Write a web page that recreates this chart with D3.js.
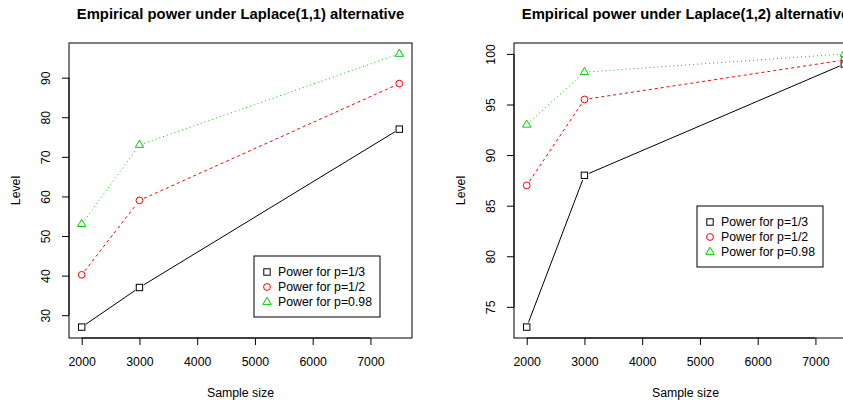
<!DOCTYPE html>
<html>
<head>
<meta charset="utf-8">
<title>Empirical power</title>
<script src="https://d3js.org/d3.v7.min.js"></script>
<style>
  body { margin: 0; background: #fff; }
  svg text { font-family: "Liberation Sans", Arial, Helvetica, sans-serif; }
</style>
</head>
<body>
<script>
// sample sizes on the x axis (shared by both panels)
var sampleSizes = [2000, 3000, 7500];
var seriesNames = ["Power for p=1/3", "Power for p=1/2", "Power for p=0.98"];

// Laplace(1,1) alternative
var lap11_p13 = [27, 37, 77];
var lap11_p12 = [40.2, 59, 88.5];
var lap11_p98 = [53, 73, 96];

// Laplace(1,2) alternative
var lap12_p13 = [73, 88, 99];
var lap12_p12 = [87, 95.5, 99.4];
var lap12_p98 = [93, 98.2, 100];

var xTicks = [2000, 3000, 4000, 5000, 6000, 7000];
var yTicksLap11 = [30, 40, 50, 60, 70, 80, 90];
var yTicksLap12 = [75, 80, 85, 90, 95, 100];

var W = 843, H = 405;
var svg = d3.select("body").append("svg")
    .attr("width", W)
    .attr("height", H);

// R-like look
var colors = ["#000000", "#FF0000", "#00CD00"];
var dashes = [null, "3,3", "1,3"];
var shapes = ["square", "circle", "triangle"];
var R = 3.4;

function addMarker(g, shape, col) {
  if (shape == "square") {
    g.append("rect").attr("x", -3.2).attr("y", -3.2)
      .attr("width", 6.4).attr("height", 6.4);
  } else if (shape == "circle") {
    g.append("circle").attr("r", R);
  } else {
    var r = 4.8;
    g.append("path")
      .attr("d", "M0," + (-r) + "L" + (r * 0.866) + "," + (r / 2) +
                 "L" + (-r * 0.866) + "," + (r / 2) + "Z");
  }
  g.selectAll("*").attr("fill", "none").attr("stroke", col).attr("stroke-width", 1);
}

function pad(ext) {
  var d = (ext[1] - ext[0]) * 0.04;
  return [ext[0] - d, ext[1] + d];
}

function panel(left, title, series, yTicks, legendPos) {
  var top = 43, w = 343, h = 295;
  var g = svg.append("g").attr("transform", "translate(" + left + "," + top + ")");

  var x = d3.scaleLinear()
    .domain(pad(d3.extent(sampleSizes)))
    .range([0, w]);
  var allY = d3.merge(series);
  var y = d3.scaleLinear()
    .domain(pad(d3.extent(allY)))
    .range([h, 0]);

  // x axis
  var xAxis = d3.axisBottom(x).tickValues(xTicks).tickSize(7).tickPadding(12.5)
    .tickFormat(d3.format("d"));
  var xa = g.append("g").attr("transform", "translate(0," + h + ")").call(xAxis);
  xa.select(".domain").remove();
  xa.append("line")
    .attr("x1", x(xTicks[0])).attr("x2", x(xTicks[xTicks.length - 1]))
    .attr("stroke", "#000");
  xa.selectAll("text").attr("font-size", 12.3).attr("fill", "#000");

  // y axis
  var yAxis = d3.axisLeft(y).tickValues(yTicks).tickSize(7);
  var ya = g.append("g").call(yAxis);
  ya.select(".domain").remove();
  ya.append("line")
    .attr("y1", y(yTicks[0])).attr("y2", y(yTicks[yTicks.length - 1]))
    .attr("stroke", "#000");
  ya.selectAll(".tick text")
    .attr("x", 0).attr("y", -19.5).attr("dy", 0)
    .attr("transform", "rotate(-90)")
    .attr("text-anchor", "middle")
    .attr("font-size", 12.3).attr("fill", "#000");

  // box
  g.append("rect").attr("width", w).attr("height", h)
    .attr("fill", "none").attr("stroke", "#000");

  // lines with gaps around points (type = "b")
  var gap = 5;
  series.forEach(function(vals, si) {
    var pts = sampleSizes.map(function(s, i) { return [x(s), y(vals[i])]; });
    for (var i = 0; i < pts.length - 1; i++) {
      var a = pts[i], b = pts[i + 1];
      var dx = b[0] - a[0], dy = b[1] - a[1], len = Math.sqrt(dx * dx + dy * dy);
      var ux = dx / len, uy = dy / len;
      g.append("line")
        .attr("x1", a[0] + ux * gap).attr("y1", a[1] + uy * gap)
        .attr("x2", b[0] - ux * gap).attr("y2", b[1] - uy * gap)
        .attr("stroke", colors[si])
        .attr("stroke-dasharray", dashes[si]);
    }
    pts.forEach(function(p) {
      var m = g.append("g").attr("transform", "translate(" + p[0] + "," + p[1] + ")");
      addMarker(m, shapes[si], colors[si]);
    });
  });

  // titles
  svg.append("text")
    .attr("x", left + w / 2).attr("y", 18.5)
    .attr("text-anchor", "middle")
    .attr("font-size", 14.8).attr("font-weight", "bold")
    .text(title);
  svg.append("text")
    .attr("x", left + w / 2).attr("y", 397)
    .attr("text-anchor", "middle")
    .attr("font-size", 12.3)
    .text("Sample size");
  svg.append("text")
    .attr("transform", "translate(" + (left - 49.5) + "," + (top + h / 2) + ") rotate(-90)")
    .attr("text-anchor", "middle")
    .attr("font-size", 12.3)
    .text("Level");

  // legend
  var lg = svg.append("g").attr("transform", "translate(" + legendPos[0] + "," + legendPos[1] + ")");
  lg.append("rect").attr("width", 126).attr("height", 61)
    .attr("fill", "#fff").attr("stroke", "#000");
  seriesNames.forEach(function(name, si) {
    var row = lg.append("g").attr("transform", "translate(13," + (16 + si * 15) + ")");
    addMarker(row.append("g"), shapes[si], colors[si]);
    row.append("text").attr("x", 11).attr("y", 4.3)
      .attr("font-size", 12.3).text(name);
  });
}

panel(69, "Empirical power under Laplace(1,1) alternative",
      [lap11_p13, lap11_p12, lap11_p98], yTicksLap11, [254, 256]);
panel(514, "Empirical power under Laplace(1,2) alternative",
      [lap12_p13, lap12_p12, lap12_p98], yTicksLap12, [697, 206]);
</script>
</body>
</html>
